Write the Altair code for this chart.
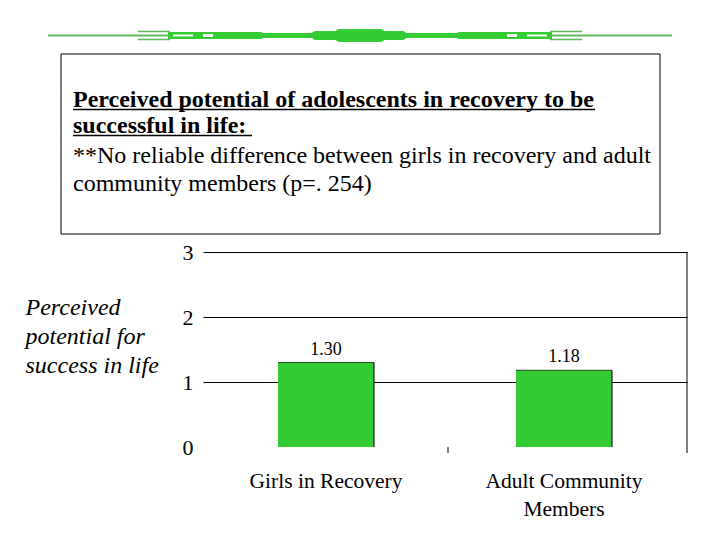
import altair as alt
import pandas as pd

# ---- data ----
categories = ["Girls in Recovery", "Adult Community Members"]
means = [1.30, 1.18]
mean_labels = ["1.30", "1.18"]
y_ticks = [0, 1, 2, 3]

box_lines = [
    "Perceived potential of adolescents in recovery to be",
    "successful in life:",
    "**No reliable difference between girls in recovery and adult",
    "community members (p=. 254)",
]
y_title = ["Perceived", "potential for", "success in life"]

df = pd.DataFrame({"group": categories, "mean": means, "label": mean_labels})
df["zero"] = 0.0

# ---- layout ----
W, H = 484, 195
OX, OY = 203, 252  # page position of plot origin
SERIF = "Liberation Serif"
GREEN = "#33cc33"
LINE_GREEN = "#5cb85c"
BAND_IN, BAND_OUT = 0.5966, 0.315
BAR_W = 96

x_enc = alt.X(
    "group:N",
    sort=categories,
    scale=alt.Scale(paddingInner=BAND_IN, paddingOuter=BAND_OUT),
    axis=alt.Axis(
        title=None, labelAngle=0, domain=False, ticks=False,
        labelFont=SERIF, labelFontSize=21.5, labelColor="black",
        labelPadding=23, labelLineHeight=28, labelBaseline="top",
        labelExpr="datum.label == 'Adult Community Members' ? ['Adult Community', 'Members'] : datum.label",
    ),
)
y_enc = alt.Y(
    "mean:Q",
    scale=alt.Scale(domain=[0, 3]),
    axis=alt.Axis(
        values=y_ticks, title=y_title, titleAngle=0, titleAlign="left",
        titleBaseline="alphabetic", titleX=25 - OX, titleY=314 - OY,
        titleFont=SERIF, titleFontStyle="italic", titleFontWeight="normal",
        titleFontSize=24, titleLineHeight=29, titleColor="black",
        labelFont=SERIF, labelFontSize=22, labelColor="black", labelPadding=10,
        ticks=False, domain=False, grid=True, gridWidth=1, gridOpacity=1,
        gridColor={"condition": {"test": "datum.value === 0", "value": "transparent"}, "value": "black"},
    ),
)

base = alt.Chart(df)
bars = base.mark_bar(color=GREEN).encode(x=x_enc, y=y_enc)
top_edge = base.mark_tick(color="black", thickness=1, size=BAR_W).encode(x=x_enc, y=y_enc)
right_edge = base.mark_rule(color="black", strokeWidth=1).encode(
    x=alt.X("group:N", sort=categories, bandPosition=1), y=y_enc, y2="zero:Q"
)
values = base.mark_text(font=SERIF, fontSize=18, baseline="alphabetic", dy=-8, color="black").encode(
    x=x_enc, y=y_enc, text="label:N"
)

blank = alt.Data(values=[{}])


def hrule(x1, x2, y, w, color, cap="butt"):
    return alt.Chart(blank).mark_rule(color=color, strokeWidth=w, strokeCap=cap).encode(
        x=alt.value(x1 - OX), x2=alt.value(x2 - OX), y=alt.value(y - OY)
    )


def vrule(x, y1, y2, w=1, color="black"):
    return alt.Chart(blank).mark_rule(color=color, strokeWidth=w).encode(
        x=alt.value(x - OX), y=alt.value(y1 - OY), y2=alt.value(y2 - OY)
    )


def text_line(s, x, y, size, weight="normal"):
    return alt.Chart(blank).mark_text(
        align="left", baseline="alphabetic", font=SERIF, fontSize=size,
        fontWeight=weight, color="black",
    ).encode(x=alt.value(x - OX), y=alt.value(y - OY), text=alt.value(s))


# decorative ornament at top
ornament = [
    hrule(48, 672, 35.5, 2, LINE_GREEN),
    hrule(138, 170, 31.5, 1.5, LINE_GREEN),
    hrule(138, 170, 39.5, 1.5, LINE_GREEN),
    hrule(550, 582, 31.5, 1.5, LINE_GREEN),
    hrule(550, 582, 39.5, 1.5, LINE_GREEN),
    hrule(168, 262, 35.5, 7, GREEN),
    hrule(262, 458, 35.5, 5, GREEN),
    hrule(458, 552, 35.5, 7, GREEN),
    hrule(316, 402, 35.5, 9, GREEN, "round"),
    hrule(340, 380, 35.5, 13, GREEN, "round"),
    hrule(173, 193, 35.5, 2, "white"),
    hrule(203, 213, 35.5, 3, "white"),
    hrule(527, 547, 35.5, 2, "white"),
    hrule(507, 517, 35.5, 3, "white"),
]

box = alt.Chart(blank).mark_rect(fill="transparent", stroke="black", strokeWidth=1).encode(
    x=alt.value(61 - OX), x2=alt.value(660 - OX), y=alt.value(54 - OY), y2=alt.value(234 - OY)
)
texts = [
    text_line(box_lines[0], 73, 107, 24, "bold"),
    text_line(box_lines[1], 73, 133, 24, "bold"),
    text_line(box_lines[2], 73, 163, 24),
    text_line(box_lines[3], 73, 191, 24),
    hrule(73, 595, 109.5, 1.5, "black"),
    hrule(73, 252, 135.5, 1.5, "black"),
]

frame = [
    vrule(OX + W, OY, OY + H + 6),
    vrule(448, OY + H, OY + H + 6),
]

chart = alt.layer(
    bars, top_edge, right_edge, values, box, *texts, *ornament, *frame
).properties(
    width=W, height=H,
    padding={"left": OX - 8, "top": OY - 8, "right": 704 - (OX - 8) - W, "bottom": 524 - (OY - 8) - H},
    autosize=alt.AutoSizeParams(type="none"),
    background="white",
).configure_view(stroke=None)

chart.save("out.html", embed_options={"renderer": "svg", "actions": False})
